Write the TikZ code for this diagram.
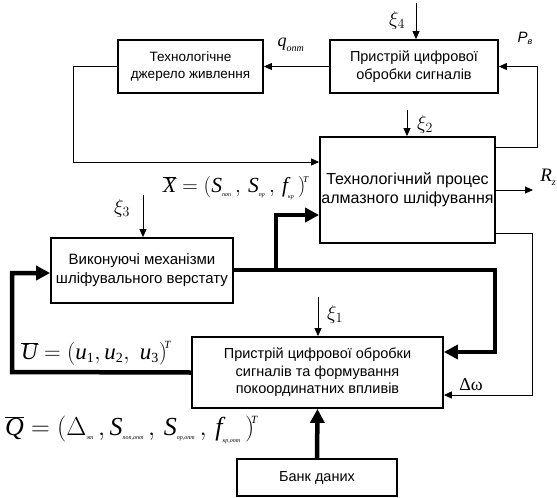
\RequirePackage{fix-cm}
\documentclass[tikz,border=0pt]{standalone}
\usepackage{fontspec}
\setmainfont{Liberation Sans}
\newfontfamily\tnr{Liberation Serif}
\usetikzlibrary{arrows.meta}
\newcommand\mi[1]{\mbox{\tnr\itshape #1}}
\newcommand\cy[1]{\mbox{\tnr\itshape\fontsize{6}{6}\selectfont #1}}
\newcommand\dg[1]{\mbox{\tnr\fontsize{14}{14}\selectfont #1}}
\newcommand\fs[1]{\fontsize{#1}{#1}\selectfont}
\begin{document}
\begin{tikzpicture}[x=1pt,y=-1pt,
  blk/.style={draw,line width=1.8pt,align=center,inner sep=0pt},
  thin/.style={line width=0.9pt,-{Triangle[length=8pt,width=7pt]}},
  thk/.style={line width=4.5pt,-{Triangle[length=14pt,width=14pt]}},
  thkl/.style={line width=4.5pt},
  lab/.style={inner sep=0pt}]
\useasboundingbox (0,0) rectangle (557,498);
% boxes
\node[blk,minimum width=145pt,minimum height=53pt,font=\fontsize{13.5}{17}\selectfont] (b1) at (190.5,66.5) {Технологічне\\джерело живлення};
\node[blk,minimum width=168pt,minimum height=53pt,font=\fontsize{14.5}{18}\selectfont] (b2) at (414,66.5) {Пристрій цифрової\\обробки сигналів};
\node[blk,minimum width=175pt,minimum height=106pt,font=\fontsize{16}{19}\selectfont] (b3) at (407.5,190) {Технологічний процес\\алмазного шліфування};
\node[blk,minimum width=182pt,minimum height=65pt,font=\fontsize{15}{19}\selectfont] (b4) at (142,270.5) {Виконуючі механізми\\шліфувального верстату};
\node[blk,minimum width=251pt,minimum height=71pt,font=\fontsize{14.5}{17.5}\selectfont] (b5) at (317.5,372.5) {Пристрій цифрової обробки\\сигналів та формування\\покоординатних впливів};
\node[blk,minimum width=160pt,minimum height=37pt,font=\fontsize{14.5}{17}\selectfont] (b6) at (317,477.5) {Банк даних};
% coordinates
\coordinate (x4) at (416,3);
\coordinate (x2) at (407,110);
\coordinate (x3) at (143,195);
\coordinate (x1) at (318,297);
\coordinate (pv) at (537,147);
\coordinate (lf) at (73,162);
\coordinate (jn) at (276,270);
\coordinate (jr) at (495,270);
\coordinate (rz) at (533,190);
\coordinate (dw) at (532,233);
\coordinate (ul) at (12,372);
% thin connectors
\draw[thin] (x4) -- (x4 |- b2.north);
\draw[thin] (b2.west) -- (b1.east);
\draw[thin] (b3.east |- pv) -- (pv) |- (b2.east);
\draw[thin] (b1.west) -| (lf) -- (lf -| b3.west);
\draw[thin] (x2) -- (x2 |- b3.north);
\draw[thin] (x3) -- (x3 |- b4.north);
\draw[thin] (x1) -- (x1 |- b5.north);
\draw[thin] (b3.east |- rz) -- (rz);
\draw[thin] (b3.east |- dw) -- (dw) -- (dw |- 0,395) -- (b5.east |- 0,395);
% thick connectors
\draw[thkl] (b4.east |- jn) -- (jn);
\draw[thk] (jn) -- (jn |- 0,215) -- (b3.west |- 0,215);
\draw[thk] (jn) -- (jr) -- (jr |- 0,352) -- (b5.east |- 0,352);
\draw[thk] (b5.west) -- (ul) -- (ul |- 0,273) -- (b4.west |- 0,273);
\draw[thk] (b6.north) -- (b5.south);
% labels
\node[lab] (l4) at (397,20) {\fs{20}$\xi_4$};
\node[lab] (lq) at (291,45) {\fs{18}$\mi{q}_{\mbox{\tnr\itshape\fs{10}опт}}$};
\node[lab] (lp) at (525,38) {\fs{15}\itshape P\raisebox{-2pt}{\fs{9}в}};
\node[lab] (l2) at (425,124) {\fs{20}$\xi_2$};
\node[lab] (lr) at (548,177) {\fs{19}\tnr\itshape R\raisebox{-4pt}{\fs{10}z}};
\node[lab,anchor=west] (lx) at (163,188) {\fs{21.5}$\overline{\mi{X}}=\bigl(\mi{S}_{\cy{поп}}\,,\,\mi{S}_{\cy{пр}}\,,\,\mi{f}_{\cy{кр}}\,\bigr)^{\!\mbox{\tnr\itshape\fs{9}T}}$};
\node[lab] (l3) at (122,208) {\fs{20}$\xi_3$};
\node[lab] (l1) at (335,314) {\fs{20}$\xi_1$};
\node[lab,anchor=west] (lu) at (21,353) {\fs{23}$\overline{\mi{U}}=\bigl(\mi{u}_{\dg{1}},\mi{u}_{\dg{2}},\;\mi{u}_{\dg{3}}\bigr)^{\!\mbox{\tnr\itshape\fs{11}T}}$};
\node[lab] (ld) at (471,385) {\fs{18}\tnr Δω};
\node[lab,anchor=west] (lqq) at (5,430) {\fs{26}$\overline{\mi{Q}}=\Bigl(\Delta_{\cy{эт}}\,,\mi{S}_{\cy{поп,опт}}\,,\,\mi{S}_{\cy{пр,опт}}\,,\,\mi{f}_{\cy{кр,опт}}\,\Bigr)^{\!\mbox{\tnr\itshape\fs{11}T}}$};
\end{tikzpicture}
\end{document}
